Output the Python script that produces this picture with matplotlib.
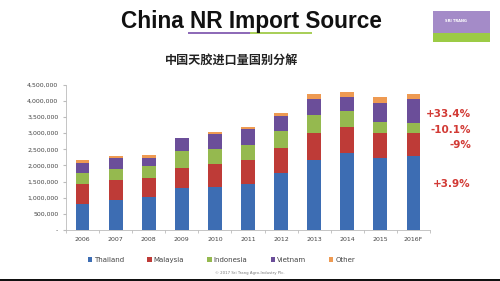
#!/usr/bin/env python3
"""China NR import source: stacked bars by origin country, 2006-2016F."""

import matplotlib.pyplot as plt
from matplotlib.patches import Rectangle
from matplotlib.ticker import FuncFormatter

years = ["2006", "2007", "2008", "2009", "2010", "2011", "2012", "2013", "2014", "2015", "2016F"]

# import volume per source, tonnes
thailand = [820000, 920000, 1020000, 1300000, 1330000, 1430000, 1765000, 2160000, 2400000, 2220000, 2300000]
malaysia = [610000, 630000, 590000, 620000, 710000, 730000, 785000, 830000, 790000, 770000, 690000]
indonesia = [325000, 340000, 360000, 530000, 460000, 460000, 510000, 580000, 480000, 350000, 330000]
vietnam = [335000, 330000, 275000, 390000, 460000, 510000, 480000, 490000, 460000, 590000, 740000]
other = [80000, 80000, 85000, 20000, 70000, 70000, 80000, 140000, 130000, 180000, 140000]

series_names = ["Thailand", "Malaysia", "Indonesia", "Vietnam", "Other"]
series_colors = ["#3D6DB3", "#BE3B37", "#95B94F", "#6B4E99", "#EE9A52"]

change_labels = ["+33.4%", "-10.1%", "-9%", "+3.9%"]

fig = plt.figure(figsize=(5.0, 2.81), dpi=100)
fig.patch.set_facecolor("white")

# header
fig.text(0.503, 0.925, "China NR Import Source", ha="center", va="center",
         fontsize=16.3, fontweight="bold", family="Liberation Sans", color="#111111")
fig.add_artist(Rectangle((0.376, 0.878), 0.124, 0.008, transform=fig.transFigure,
                         color="#8E6BB8", lw=0))
fig.add_artist(Rectangle((0.500, 0.878), 0.124, 0.008, transform=fig.transFigure,
                         color="#A9CF5A", lw=0))
fig.text(0.463, 0.785, "中国天胶进口量国别分解", ha="center", va="center",
         fontsize=8.7, fontweight="bold", family=["Noto Sans CJK SC", "DejaVu Sans"],
         color="#222222")

# logo block
fig.add_artist(Rectangle((0.866, 0.880), 0.114, 0.080, transform=fig.transFigure,
                         color="#A48BC8", lw=0))
fig.add_artist(Rectangle((0.866, 0.852), 0.114, 0.030, transform=fig.transFigure,
                         color="#9CCB45", lw=0))
fig.text(0.89, 0.925, "SRI TRANG", fontsize=2.6, color="white", fontweight="bold",
         ha="left", va="center")

ax = fig.add_axes([0.132, 0.181, 0.728, 0.518])
x = range(len(years))
bottom = [0] * len(years)
for name, vals, col in zip(series_names,
                           [thailand, malaysia, indonesia, vietnam, other],
                           series_colors):
    ax.bar(x, vals, width=0.42, bottom=bottom, color=col, label=name, lw=0)
    bottom = [b + v for b, v in zip(bottom, vals)]

ax.set_xlim(-0.5, len(years) - 0.5)
ax.set_ylim(0, 4500000)
ax.set_yticks(range(0, 4500001, 500000))
ax.yaxis.set_major_formatter(FuncFormatter(lambda v, _: "-" if v == 0 else f"{int(v):,}"))
ax.set_xticks(list(x))
ax.set_xticklabels(years)
ax.set_xticks([i + 0.5 for i in range(-1, len(years))], minor=True)
ax.tick_params(axis="x", which="major", length=0, labelsize=4.5, colors="#444444", pad=5)
ax.tick_params(axis="x", which="minor", length=2.5, color="#BBBBBB")
ax.tick_params(axis="y", length=2, color="#BBBBBB", labelsize=4.5, labelcolor="#444444")
for side in ["top", "right"]:
    ax.spines[side].set_visible(False)
for side in ["left", "bottom"]:
    ax.spines[side].set_color("#BBBBBB")
    ax.spines[side].set_linewidth(0.6)

# yoy change notes on the right
for lbl, ypos in zip(change_labels, [0.595, 0.538, 0.484, 0.345]):
    fig.text(0.942, ypos, lbl, ha="right", va="center", fontsize=7.5,
             fontweight="bold", color="#D23A35")

leg = fig.legend(loc="center", bbox_to_anchor=(0.443, 0.075), ncol=5, frameon=False,
                 fontsize=5, handlelength=0.6, handleheight=0.6, handletextpad=0.3,
                 columnspacing=3.35, labelcolor="#444444")

fig.text(0.5, 0.03, "© 2017 Sri Trang Agro-Industry Plc.", ha="center", va="center",
         fontsize=2.8, color="#777777")

# dark strip at the very bottom of the slide
fig.add_artist(Rectangle((0, 0), 1, 0.008, transform=fig.transFigure, color="#111111", lw=0))

fig.savefig("out.png", dpi=100)
